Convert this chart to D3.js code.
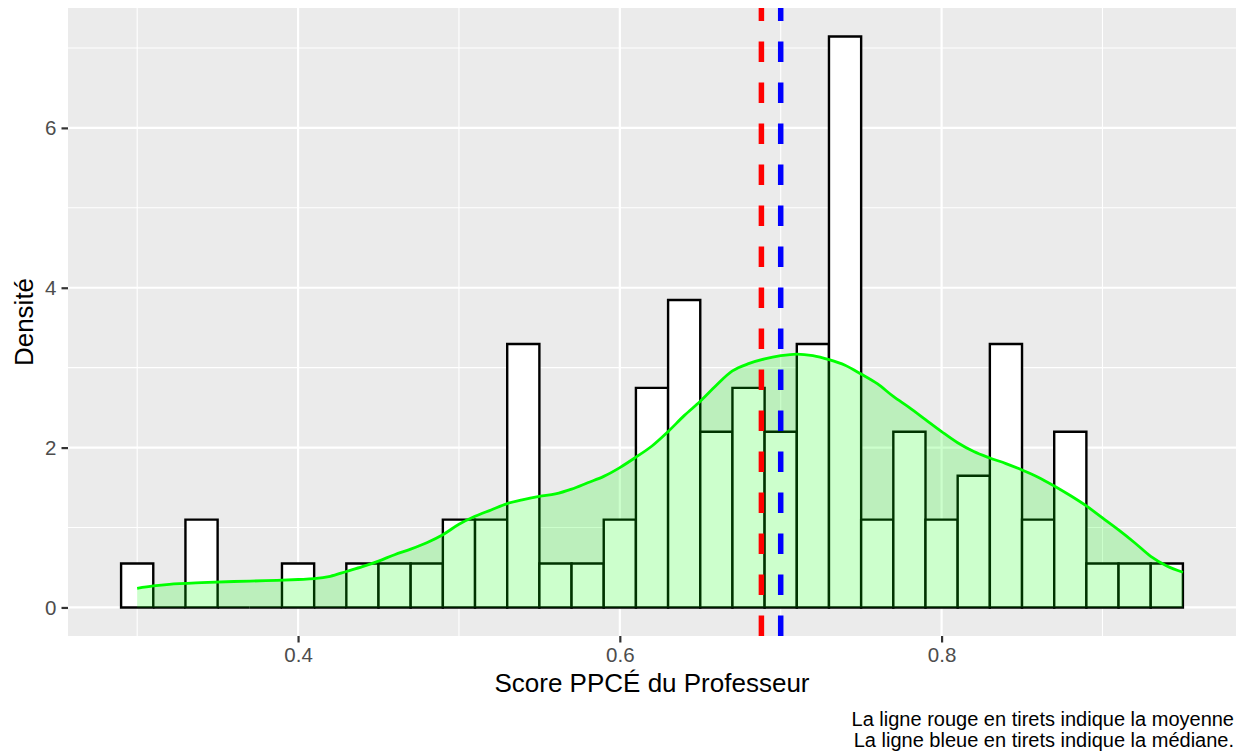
<!DOCTYPE html>
<html>
<head>
<meta charset="utf-8">
<script src="https://cdn.jsdelivr.net/npm/d3@7"></script>
<style>
  body { margin: 0; background: #fff; }
  svg text { font-family: "Liberation Sans", Arial, Helvetica, sans-serif; }
</style>
</head>
<body>
<svg id="chart" width="1238" height="755"></svg>
<script>
// Histogram bins (left edges, width 0.02) and their counts
var BIN_WIDTH = 0.02;
var binStarts = [0.29, 0.31, 0.33, 0.35, 0.37, 0.39, 0.41, 0.43, 0.45, 0.47, 0.49,
                 0.51, 0.53, 0.55, 0.57, 0.59, 0.61, 0.63, 0.65, 0.67, 0.69, 0.71,
                 0.73, 0.75, 0.77, 0.79, 0.81, 0.83, 0.85, 0.87, 0.89, 0.91, 0.93];
var binCounts = [1, 0, 2, 0, 0, 1, 0, 1, 1, 1, 2,
                 2, 6, 1, 1, 2, 5, 7, 4, 5, 4, 6,
                 13, 2, 4, 2, 3, 6, 2, 4, 1, 1, 1];

// Kernel density curve
var densX = [0.30, 0.31, 0.32, 0.34, 0.36, 0.38, 0.40, 0.41, 0.42, 0.43, 0.44,
             0.45, 0.46, 0.47, 0.48, 0.49, 0.50, 0.51, 0.52, 0.53, 0.54, 0.55,
             0.56, 0.57, 0.58, 0.59, 0.60, 0.61, 0.62, 0.63, 0.64, 0.65, 0.66,
             0.67, 0.68, 0.69, 0.70, 0.71, 0.72, 0.73, 0.74, 0.75, 0.76, 0.77,
             0.78, 0.79, 0.80, 0.81, 0.82, 0.83, 0.84, 0.85, 0.86, 0.87, 0.88,
             0.89, 0.90, 0.91, 0.92, 0.93, 0.94, 0.95];
var densY = [0.24, 0.27, 0.29, 0.31, 0.325, 0.335, 0.35, 0.36, 0.39, 0.45, 0.51,
             0.58, 0.66, 0.73, 0.81, 0.91, 1.04, 1.14, 1.22, 1.30, 1.35, 1.39,
             1.42, 1.48, 1.56, 1.64, 1.75, 1.88, 2.02, 2.20, 2.40, 2.58, 2.78,
             2.96, 3.05, 3.11, 3.15, 3.17, 3.15, 3.10, 3.03, 2.92, 2.80, 2.64,
             2.50, 2.35, 2.20, 2.06, 1.95, 1.87, 1.80, 1.72, 1.63, 1.52, 1.40,
             1.27, 1.12, 0.97, 0.81, 0.64, 0.52, 0.44];

// Mean and median reference lines
var meanValue = 0.688;
var medianValue = 0.700;

var xTicks = [0.4, 0.6, 0.8];
var xMinor = [0.3, 0.5, 0.7, 0.9];
var yTicks = [0, 2, 4, 6];
var yMinor = [1, 3, 5, 7];

var xTitle = "Score PPCÉ du Professeur";
var yTitle = "Densité";
var captionLines = ["La ligne rouge en tirets indique la moyenne",
                    "La ligne bleue en tirets indique la médiane."];

var svg = d3.select("#chart");
var margin = {top: 8, right: 2, bottom: 119, left: 68};
var W = 1238, H = 755;

var total = d3.sum(binCounts);
var bins = binStarts.map((s, i) => ({x0: s, x1: s + BIN_WIDTH, d: binCounts[i] / (total * BIN_WIDTH)}));

// ggplot-style 5% expansion
var xLo = d3.min(bins, b => b.x0), xHi = d3.max(bins, b => b.x1);
var xPad = (xHi - xLo) * 0.05;
var yHi = d3.max(bins, b => b.d);
var yPad = yHi * 0.05;

var x = d3.scaleLinear()
  .domain([xLo - xPad, xHi + xPad])
  .range([margin.left, W - margin.right]);
var y = d3.scaleLinear()
  .domain([-yPad, yHi + yPad])
  .range([H - margin.bottom, margin.top]);

var pTop = margin.top, pBot = H - margin.bottom;
var pLeft = margin.left, pRight = W - margin.right;

// Panel background and grid
svg.append("rect")
  .attr("x", pLeft).attr("y", pTop)
  .attr("width", pRight - pLeft).attr("height", pBot - pTop)
  .attr("fill", "#ebebeb");

var grid = svg.append("g").attr("class", "grid");
grid.selectAll(".vminor").data(xMinor).enter().append("line")
  .attr("x1", d => x(d)).attr("x2", d => x(d))
  .attr("y1", pTop).attr("y2", pBot)
  .attr("stroke", "#fff").attr("stroke-width", 1.1);
grid.selectAll(".hminor").data(yMinor).enter().append("line")
  .attr("y1", d => y(d)).attr("y2", d => y(d))
  .attr("x1", pLeft).attr("x2", pRight)
  .attr("stroke", "#fff").attr("stroke-width", 1.1);
grid.selectAll(".vmajor").data(xTicks).enter().append("line")
  .attr("x1", d => x(d)).attr("x2", d => x(d))
  .attr("y1", pTop).attr("y2", pBot)
  .attr("stroke", "#fff").attr("stroke-width", 2.2);
grid.selectAll(".hmajor").data(yTicks).enter().append("line")
  .attr("y1", d => y(d)).attr("y2", d => y(d))
  .attr("x1", pLeft).attr("x2", pRight)
  .attr("stroke", "#fff").attr("stroke-width", 2.2);

// Histogram bars (paths, so empty bins still show their baseline)
svg.append("g").selectAll("path")
  .data(bins).enter().append("path")
  .attr("d", d => `M${x(d.x0)},${y(0)}V${y(d.d)}H${x(d.x1)}V${y(0)}Z`)
  .attr("fill", "#fff")
  .attr("stroke", "#000")
  .attr("stroke-width", 2.4)
  .attr("stroke-linejoin", "miter");

// Density area + line
var densPts = densX.map((v, i) => [v, densY[i]]);
var area = d3.area()
  .x(d => x(d[0])).y0(y(0)).y1(d => y(d[1]))
  .curve(d3.curveCatmullRom);
var line = d3.line()
  .x(d => x(d[0])).y(d => y(d[1]))
  .curve(d3.curveCatmullRom);

svg.append("path")
  .datum(densPts)
  .attr("d", area)
  .attr("fill", "#00ff00")
  .attr("fill-opacity", 0.2);
svg.append("path")
  .datum(densPts)
  .attr("d", line)
  .attr("fill", "none")
  .attr("stroke", "#00ff00")
  .attr("stroke-width", 2.8);

// Mean / median dashed lines
[[meanValue, "#ff0000"], [medianValue, "#0000ff"]].forEach(function(p) {
  svg.append("line")
    .attr("x1", x(p[0])).attr("x2", x(p[0]))
    .attr("y1", pBot).attr("y2", pTop)
    .attr("stroke", p[1])
    .attr("stroke-width", 5.5)
    .attr("stroke-dasharray", "20.5,20.5");
});

// Axes
var xAxis = svg.append("g")
  .attr("transform", `translate(0, ${pBot})`)
  .call(d3.axisBottom(x).tickValues(xTicks).tickSize(6.5).tickPadding(5).tickFormat(d3.format(".1f")));
var yAxis = svg.append("g")
  .attr("transform", `translate(${pLeft}, 0)`)
  .call(d3.axisLeft(y).tickValues(yTicks).tickSize(6.5).tickPadding(5).tickFormat(d3.format("d")));

[xAxis, yAxis].forEach(function(a) {
  a.select(".domain").remove();
  a.selectAll(".tick line").attr("stroke", "#333333").attr("stroke-width", 2.2);
  a.selectAll(".tick text")
    .attr("fill", "#4d4d4d")
    .style("font-size", "20.5px")
    .style("font-family", "'Liberation Sans', Arial, sans-serif");
});

// Titles
svg.append("text")
  .attr("x", (pLeft + pRight) / 2)
  .attr("y", 692)
  .attr("text-anchor", "middle")
  .attr("fill", "#000")
  .style("font-size", "26px")
  .text(xTitle);

svg.append("text")
  .attr("transform", `translate(33, ${(pTop + pBot) / 2}) rotate(-90)`)
  .attr("text-anchor", "middle")
  .attr("fill", "#000")
  .style("font-size", "26px")
  .text(yTitle);

// Caption
svg.append("g").selectAll("text")
  .data(captionLines).enter().append("text")
  .attr("x", pRight - 2)
  .attr("y", (d, i) => 726 + i * 21)
  .attr("text-anchor", "end")
  .attr("fill", "#000")
  .style("font-size", "20px")
  .text(d => d);
</script>
</body>
</html>
